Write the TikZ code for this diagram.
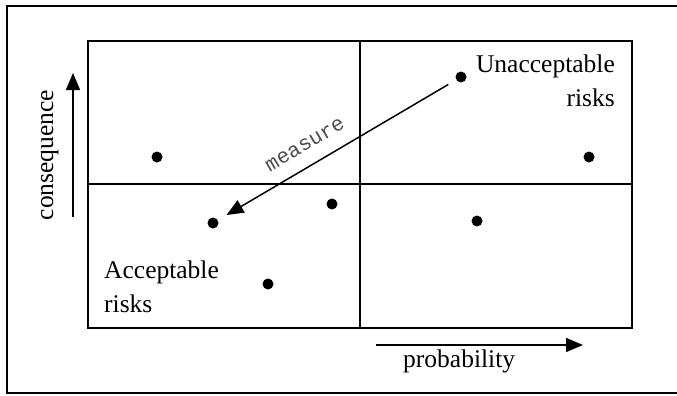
\documentclass[tikz,border=0pt]{standalone}
\usepackage{fontspec}
\setmainfont{Liberation Serif}
\setmonofont{Liberation Mono}
\usetikzlibrary{positioning, arrows.meta}

\begin{document}
\begin{tikzpicture}[x=1pt, y=-1pt]
  \tikzset{
    frame/.style={
      line width=2pt
    },
    riskdot/.style={
      circle,
      fill=black,
      inner sep=0pt,
      minimum size=11pt
    },
    axisarrow/.style={
      line width=1.5pt,
      -{Triangle[length=17pt, width=14pt]}
    },
    label/.style={
      font=\fontsize{25.5}{34}\selectfont,
      inner sep=0pt
    },
    measurelabel/.style={
      font=\ttfamily\fontsize{21}{24}\selectfont,
      text=black!70,
      inner sep=2pt
    }
  }
  \useasboundingbox (0,0) rectangle (677,396);

  % Draw the outer frame and the grid
  \draw[frame] (6.5,6.5) rectangle (690,392.5);
  \draw[frame] (88,41) rectangle (632,328);
  \draw[frame] (360,41) -- (360,328);
  \draw[frame] (88,184) -- (632,184);

  % Risk points
  \node[riskdot] (dA) at (157,157) {};
  \node[riskdot] (dB) at (461,77) {};
  \node[riskdot] (dC) at (589,157) {};
  \node[riskdot] (dD) at (213,223) {};
  \node[riskdot] (dE) at (332,204) {};
  \node[riskdot] (dF) at (477,221) {};
  \node[riskdot] (dG) at (268,284) {};

  % Measure arrow
  \draw[line width=1.5pt, {Triangle[length=17pt, width=14pt]}-,
        shorten <=10pt, shorten >=9pt]
    (dD) -- node[measurelabel, sloped, above=12pt, pos=0.41] (measure) {measure} (dB);

  % Labels of the regions
  \node[label, align=right, anchor=base east] (unacc) at (615,106)
    {Unacceptable\\risks};
  \node[label, align=left, anchor=base west] (acc) at (104,312)
    {Acceptable\\risks};

  % Axes
  \coordinate (p0) at (376,345);
  \coordinate (p1) at (583,345);
  \draw[axisarrow] (p0) -- (p1);
  \node[label, anchor=base west] (prob) at (403,367) {probability};

  \coordinate (c0) at (73,217);
  \coordinate (c1) at (73,73);
  \draw[axisarrow] (c0) -- (c1);
  \node[label, rotate=90, anchor=base] (cons) at (53,155) {consequence};
\end{tikzpicture}
\end{document}
